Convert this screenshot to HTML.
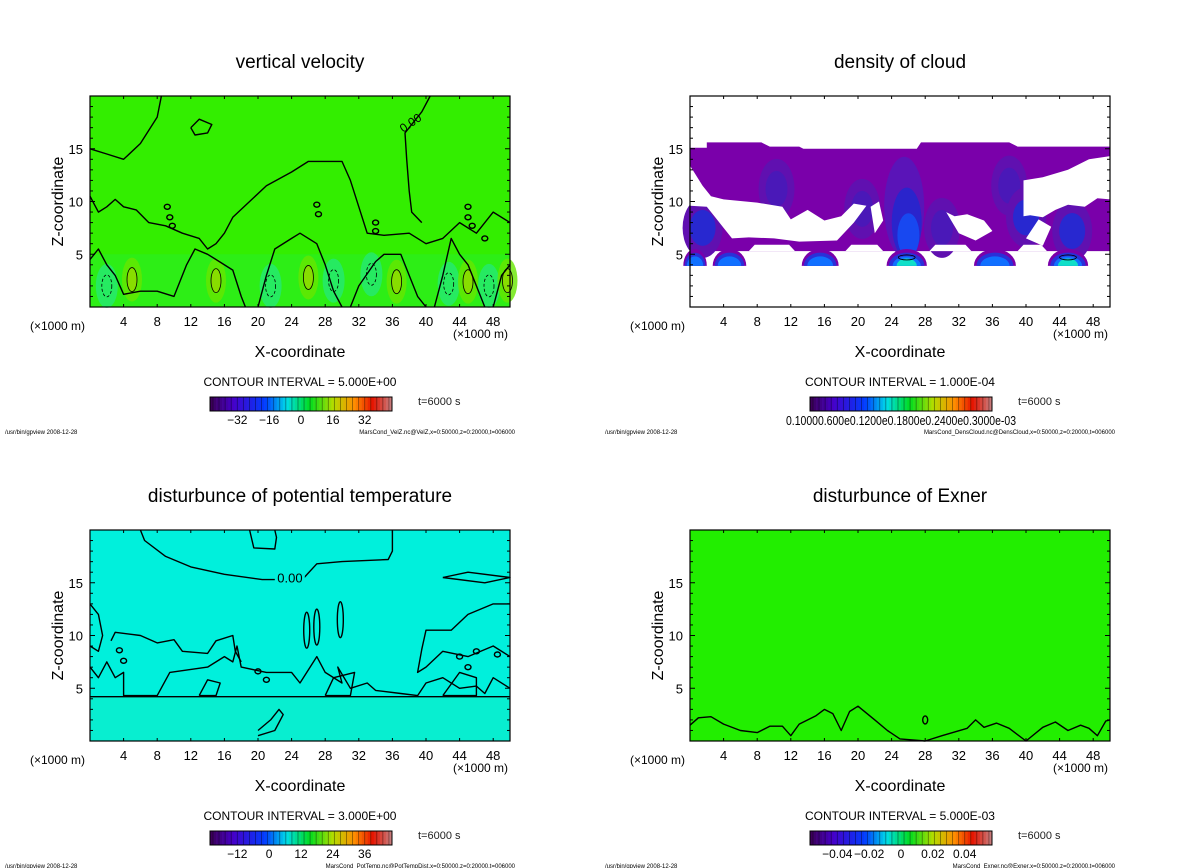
<!DOCTYPE html>
<html><head><meta charset="utf-8">
<style>
html,body{margin:0;padding:0;background:#fff;}
svg{display:block;font-family:"Liberation Sans",sans-serif;}
</style></head>
<body>
<svg id="root" width="1200" height="868" viewBox="0 0 1200 868"></svg>
<script>
// ---- data ----
const xTickValues = [4,8,12,16,20,24,28,32,36,40,44,48];
const zTickValues = [5,10,15];
const panelTitles = ["vertical velocity","density of cloud","disturbunce of potential temperature","disturbunce of Exner"];
const contourIntervals = ["5.000E+00","1.000E-04","3.000E+00","5.000E-03"];
const cbarLabelsW = ["-32","-16","0","16","32"];
const cbarLabelsT = ["-12","0","12","24","36"];
const cbarLabelsE = ["-0.04","-0.02","0","0.02","0.04"];
const footers = ["MarsCond_VelZ.nc@VelZ,x=0:50000,z=0:20000,t=006000","MarsCond_DensCloud.nc@DensCloud,x=0:50000,z=0:20000,t=006000","MarsCond_PotTemp.nc@PotTempDist,x=0:50000,z=0:20000,t=006000","MarsCond_Exner.nc@Exner,x=0:50000,z=0:20000,t=006000"];
// vertical velocity cores (x km, z km)
const upX = [5,15,26,36.5,45,49.7];
const upZ = [2.6,2.5,2.8,2.4,2.4,2.5];
const downX = [2,21.5,29,33.5,42.7,47.5];
const downZ = [2,2,2.5,3.1,2.2,2];
// cloud base blobs (centre x km, half-width km, intensity level)
const cloudX = [0.6,4.7,15.5,25.8,36.3,45];
const cloudHW = [1.4,2.0,2.2,2.4,2.5,2.4];
const cloudI = [2,2,2,4,2,4];
// cloud columns inside the layer (x, z, intensity)
const colX = [10.3,20.5,38,40,45.5,1.5,30];
const colZ = [11.2,9.3,11.5,8.5,7.2,7.5,7.5];
const colI = [1,1,1,2,2,2,1];

const NS="http://www.w3.org/2000/svg";
const root=document.getElementById('root');
function el(tag,attrs,parent,text){const e=document.createElementNS(NS,tag);for(const k in attrs)e.setAttribute(k,attrs[k]);if(text!==undefined)e.textContent=text;(parent||root).appendChild(e);return e;}

const panels=[{x0:90,y0:96},{x0:690,y0:96},{x0:90,y0:530},{x0:690,y0:530}];
const W=420,H=211;
function sx(p,x){return p.x0+x/50*W;}
function sz(p,z){return p.y0+H-z/20*H;}
function path(p,pts,close){return pts.map((q,i)=>(i?'L':'M')+sx(p,q[0]).toFixed(1)+','+sz(p,q[1]).toFixed(1)).join('')+(close?'Z':'');}

function rainbow(t){const stops=[[0,[60,0,90]],[0.12,[70,0,200]],[0.3,[0,60,255]],[0.42,[0,220,230]],[0.55,[0,220,30]],[0.68,[180,220,0]],[0.8,[255,140,0]],[0.9,[230,20,0]],[1,[200,120,120]]];for(let i=1;i<stops.length;i++){if(t<=stops[i][0]){const a=stops[i-1],b=stops[i];const f=(t-a[0])/(b[0]-a[0]);return 'rgb('+a[1].map((v,k)=>Math.round(v+(b[1][k]-v)*f)).join(',')+')';}}return 'rgb(200,120,120)';}

function drawFrame(i,g){
  const p=panels[i];
  const cx=p.x0+W/2;
  const t=el('text',{x:cx,y:p.y0-28,'text-anchor':'middle','font-size':19,fill:'#000'},g,panelTitles[i]);
  
  el('rect',{x:p.x0,y:p.y0,width:W,height:H,fill:'none',stroke:'#000','stroke-width':1.2},g);
  const tk=el('g',{},g);
  for(let x=4;x<50;x+=4){el('line',{x1:sx(p,x),x2:sx(p,x),y1:p.y0+H,y2:p.y0+H-3,stroke:'#000'},tk);el('line',{x1:sx(p,x),x2:sx(p,x),y1:p.y0,y2:p.y0+3,stroke:'#000'},tk);}
  for(let z=1;z<20;z++){const L=z%5?3:5;el('line',{x1:p.x0,x2:p.x0+L,y1:sz(p,z),y2:sz(p,z),stroke:'#000'},tk);el('line',{x1:p.x0+W,x2:p.x0+W-L,y1:sz(p,z),y2:sz(p,z),stroke:'#000'},tk);}
  xTickValues.forEach(v=>{el('text',{x:sx(p,v),y:p.y0+H+19,'text-anchor':'middle','font-size':13},tk,String(v));});
  zTickValues.forEach(v=>{el('text',{x:p.x0-7,y:sz(p,v)+5,'text-anchor':'end','font-size':13},tk,String(v));});
  el('text',{x:p.x0-60,y:p.y0+H+23,'font-size':12},g,'(×1000 m)');
  el('text',{x:p.x0+363,y:p.y0+H+31,'font-size':12},g,'(×1000 m)');
  const xl=el('text',{x:cx,y:p.y0+H+50,'text-anchor':'middle','font-size':16},g,'X-coordinate');
  
  const yl=el('text',{x:0,y:0,'text-anchor':'middle','font-size':16,transform:'translate('+(p.x0-27)+','+(p.y0+H/2)+') rotate(-90)'},g,'Z-coordinate');
  
  const ci=el('text',{x:cx,y:p.y0+290,'text-anchor':'middle','font-size':12},g,'CONTOUR INTERVAL = '+contourIntervals[i]);
  
  const cb=el('g',{},g);
  const bx=p.x0+120,by=p.y0+301,bw=182,bh=14,n=60;
  for(let k=0;k<n;k++){el('rect',{x:bx+k*bw/n,y:by,width:bw/n+0.3,height:bh,fill:rainbow(k/(n-1))},cb);if(k%2)el('line',{x1:bx+k*bw/n,x2:bx+k*bw/n,y1:by,y2:by+bh,stroke:'rgba(0,0,0,0.45)','stroke-width':0.8},cb);}
  el('rect',{x:bx,y:by,width:bw,height:bh,fill:'none',stroke:'#000'},cb);
  el('text',{x:p.x0+328,y:by+8,'font-size':11,fill:'#222'},g,'t=6000 s');
  el('text',{x:p.x0-85,y:p.y0+338,'font-size':6},g,'/usr/bin/gpview   2008-12-28');
  el('text',{x:p.x0+W+5,y:p.y0+338,'text-anchor':'end','font-size':6},g,footers[i]);
  return {bx,by,bw,bh};
}
function cbLabels(g,b,labs){labs.forEach((s,k)=>el('text',{x:b.bx+b.bw*(0.15+k*0.7/(labs.length-1)),y:b.by+b.bh+13,'text-anchor':'middle','font-size':12},g,s.replace('-','−')));}

// ---- panel 1: vertical velocity ----
(function(){
  const p=panels[0];const g=el('g',{});
  el('rect',{x:p.x0,y:p.y0,width:W,height:H,fill:'#33ee00'},g);
  const f=el('g',{},g);
  el('rect',{x:p.x0,y:sz(p,5),width:W,height:sz(p,0)-sz(p,5),fill:'#22ee40',opacity:0.35},f);
  downX.forEach((x,k)=>{const e=el('ellipse',{cx:sx(p,x),cy:sz(p,downZ[k]),rx:11,ry:22,fill:'#20e8a0',opacity:0.55},f);
    el('ellipse',{cx:sx(p,x),cy:sz(p,downZ[k]),rx:5,ry:11,fill:'none',stroke:'#000','stroke-dasharray':'3,2','stroke-width':0.8},f);});
  upX.forEach((x,k)=>{const e=el('ellipse',{cx:sx(p,x),cy:sz(p,upZ[k]),rx:10,ry:22,fill:'#66e600',opacity:0.8},f);
    el('ellipse',{cx:sx(p,x),cy:sz(p,upZ[k]),rx:5,ry:12,fill:'#88dd00',stroke:'#000','stroke-width':0.8},f);});
  const c=el('g',{fill:'none',stroke:'#000','stroke-width':1.4,'stroke-linejoin':'round'},g);
  const lines=[
    [[0,15],[2,14.5],[4,14],[6,15.5],[8,18],[8.5,20]],
    [[12,17],[13,17.8],[14.5,17.3],[14,16.5],[12.5,16.3],[12,17]],
    [[40.5,20],[39.5,18.5],[37.5,16.5],[37.7,14],[38,11],[38.3,9],[39.5,8]],
    [[0,10.5],[1,9],[2,9.5],[3,10.2],[4,9.5],[5.5,9.2],[7,8],[9,7.7],[11,7],[13,6.5],[14,5.5],[15,6],[16,7],[17,8.5],[19,10],[21,11.5],[24,12.8],[26,13.8],[30,13.8],[31,12],[32,9.5],[33,7],[35,6.8],[38,7],[40,6],[42,6.5],[44,8],[46,7],[48,9],[50,8]],
    [[0,4.5],[1,5.5],[2,4],[3,3],[4,1.2],[6,1.5],[8,1.5],[10,1],[11.5,4],[12.5,5.5],[14,5],[15,4.5],[17,3.5],[18,1],[18.5,0]],
    [[20,0],[21,3],[22,5.5],[24,6.5],[25,7],[27,6],[28,4],[29,1.5],[30,0]],
    [[31,0],[32,2],[34,4.3],[35,5],[37,5],[38,3],[39,1],[40,0]],
    [[41,0],[42,3],[43,6.5],[44,5],[45,4],[46,2],[47,0]],
    [[48,0],[49,3],[50,4]]
  ];
  lines.forEach(l=>el('path',{d:path(p,l)},c));
  [[9.2,9.5],[9.5,8.5],[9.8,7.7],[27,9.7],[27.2,8.8],[34,8],[34,7.2],[45,9.5],[45,8.5],[45.5,7.7],[47,6.5]].forEach(q=>el('ellipse',{cx:sx(p,q[0]),cy:sz(p,q[1]),rx:3,ry:2.5},c));
  el('text',{x:sx(p,37.3),y:sz(p,16.5),'font-size':12,transform:'rotate(-35 '+sx(p,37.3)+' '+sz(p,16.5)+')'},g,'0.00');
  const b=drawFrame(0,g);cbLabels(g,b,cbarLabelsW);
})();

// ---- panel 2: density of cloud ----
(function(){
  const p=panels[1];const g=el('g',{});
  el('rect',{x:p.x0,y:p.y0,width:W,height:H,fill:'#fff'},g);
  const f=el('g',{},g);
  el('path',{d:path(p,[[0,15.1],[2,15.1],[2,15.6],[8.5,15.6],[9.5,15.2],[13,15.2],[13.5,15.0],[27,15.0],[27.5,15.6],[38,15.6],[39,15.2],[50,15.2],[50,5.3],[0,5.3]],true),fill:'#7a00aa'},f);
  colX.forEach((x,k)=>{const n=colI[k];
    const e=el('ellipse',{cx:sx(p,x),cy:sz(p,colZ[k]),rx:16+n*2,ry:30,fill:'#6010b0'},f);
    el('ellipse',{cx:sx(p,x),cy:sz(p,colZ[k]),rx:9+n*2,ry:18,fill:n>1?'#2828d0':'#4a18b8'},f);});
  el('ellipse',{cx:sx(p,25.5),cy:sz(p,9.5),rx:20,ry:50,fill:'#5a14b8'},f);
  el('ellipse',{cx:sx(p,25.8),cy:sz(p,8),rx:15,ry:35,fill:'#2a24cc'},f);
  el('ellipse',{cx:sx(p,26),cy:sz(p,6.8),rx:11,ry:22,fill:'#1848f0'},f);
  // white gaps
  el('path',{d:path(p,[[0,13.4],[1.5,11.5],[2.5,10.5],[4,10.2],[8,9.9],[11,9.5],[12,8.3],[14,9.2],[16,8.2],[18,8.6],[19.5,9.8],[21,9.6],[19.5,8],[17.5,6.3],[13,6.2],[10,6.5],[7,6.6],[5,6.5],[4,7.5],[3,8.5],[2,9.5],[0,9.6]],true),fill:'#fff'},f);
  el('path',{d:path(p,[[39.7,12],[42,12.3],[45,13],[47.5,14],[50,14.3],[50,10.2],[48.5,10.3],[47,9.5],[45,9.7],[43.5,9.2],[42,8.5],[40.5,8.7],[39.7,8.6]],true),fill:'#fff'},f);
  el('path',{d:path(p,[[21.5,9.5],[22.5,10],[23,8.2],[22,7]],true),fill:'#fff'},f);
  el('path',{d:path(p,[[30.5,9],[31.5,8.6],[33,8.8],[35,8.2],[36,7.2],[34,6.3],[32,7]],true),fill:'#fff'},f);
  el('path',{d:path(p,[[41.5,8.3],[43,7.6],[42,5.8],[40,6.5]],true),fill:'#fff'},f);
  // white gaps between base cells
  [[7,12.5],[18.5,23],[28.5,33.5],[39,42.5]].forEach(q=>el('path',{d:path(p,[[q[0],5.3],[q[0]+0.7,5.9],[q[1]-0.7,5.9],[q[1],5.3]],true),fill:'#fff'},f));
  cloudX.forEach((x,k)=>{const n=cloudI[k],hw=cloudHW[k];
    const layers=[[1.0,'#7a00aa',1.6],[0.88,'#2a30d8',1.25],[0.7,'#1070ff',0.9]];
    if(n>=3)layers.push([0.5,'#10e0c8',0.7]);
    layers.forEach(L=>{const a=hw*L[0],h=L[2];const x1=sx(p,x-a),x2=sx(p,x+a),yb=sz(p,3.9),ry=sz(p,3.9)-sz(p,3.9+h);
      const e=el('path',{d:'M'+x1+','+yb+' A'+(x2-x1)/2+','+ry+' 0 0 1 '+x2+','+yb+'Z',fill:L[1]},f);
      });
    if(n>=3)el('ellipse',{cx:sx(p,x),cy:sz(p,4.7),rx:hw*3.5,ry:2.5,fill:'none',stroke:'#000','stroke-width':0.8},f);});
  const b=drawFrame(1,g);
  el('text',{x:b.bx+b.bw/2,y:b.by+b.bh+14,'text-anchor':'middle','font-size':13,textLength:230,lengthAdjust:'spacingAndGlyphs'},g,'0.10000.600e0.1200e0.1800e0.2400e0.3000e-03');
})();

// ---- panel 3: potential temperature ----
(function(){
  const p=panels[2];const g=el('g',{});
  el('rect',{x:p.x0,y:p.y0,width:W,height:H,fill:'#00f0dc'},g);
  el('rect',{x:p.x0,y:sz(p,4.2),width:W,height:sz(p,0)-sz(p,4.2),fill:'#08eed0'},g);
  const c=el('g',{fill:'none',stroke:'#000','stroke-width':1.4,'stroke-linejoin':'round'},g);
  el('path',{d:path(p,[[6,20],[6.5,19],[9,17.5],[12,16.5],[16,15.8],[20.5,15.3],[24,15.3],[25.5,15.5],[27,16.8],[30,17],[35.5,17.2],[36,18],[36,20]])},c);
  el('path',{d:path(p,[[19,20],[19.5,18.3],[22,18.2],[22.2,19.3],[22,20]])},c);
  el('path',{d:path(p,[[42,15.5],[45,16],[50,15.5],[47,15],[42,15.5]])},c);
  el('path',{d:path(p,[[0,13],[1,12],[1.5,10],[1,8.5],[0,9]])},c);
  el('path',{d:path(p,[[50,13],[48,13],[45,12],[43,10.5],[40,10.5],[39.5,8.7],[39,6.5],[40,7],[42,8.5],[45,8],[48,9],[50,8]])},c);
  el('path',{d:path(p,[[0,7],[1,6],[2,7.5],[3,6],[4,6.5],[4,4.3],[8,4.3],[9.5,6.5],[14,7],[16,8],[17,7.5],[17.5,9],[18,7],[21,6.5],[24,6.5],[25,5.5],[27,8],[28,6.5],[30,5.5],[29.5,7],[31,5],[33,5.5],[34,4.8],[37,4.5],[39,4.3],[40,5.5],[42,6],[44,5],[46,5.2],[47,4.5],[48,6],[50,5]])},c);
  el('path',{d:path(p,[[2.5,9.5],[3,10.3],[6,10],[8,9.3],[10,9.6],[11,8.5],[14,8.3],[15,9.5],[17,10],[17.3,8.5],[18,7.5]])},c);
  el('path',{d:path(p,[[13,4.3],[15,4.3],[15.5,5.5],[14,5.8],[13,4.3]])},c);
  el('path',{d:path(p,[[42,4.3],[46,4.3],[46,6],[44,6.5],[42,4.3]])},c);
  el('path',{d:path(p,[[28,4.3],[31,4.3],[31.5,6.5],[29,6],[28,4.3]])},c);
  el('path',{d:path(p,[[20,0.5],[22,1],[23,2.5],[22.5,3],[21.5,2],[20,1]])},c);
  [[25.8,10.5],[27,10.8],[29.8,11.5]].forEach(q=>el('ellipse',{cx:sx(p,q[0]),cy:sz(p,q[1]),rx:3,ry:18},c));
  [[3.5,8.6],[4,7.6],[20,6.6],[21,5.8],[44,8],[45,7],[46,8.5],[48.5,8.2]].forEach(q=>el('ellipse',{cx:sx(p,q[0]),cy:sz(p,q[1]),rx:3,ry:2.5},c));
  el('line',{x1:p.x0,x2:p.x0+W,y1:sz(p,4.2),y2:sz(p,4.2),stroke:'#000','stroke-width':1.4},c);
  el('rect',{x:sx(p,22),y:sz(p,15.5)-8,width:30,height:14,fill:'#00f0dc'},g);
  el('text',{x:sx(p,23.8),y:sz(p,15.5)+5,'font-size':13,'text-anchor':'middle'},g,'0.00');
  const b=drawFrame(2,g);cbLabels(g,b,cbarLabelsT);
})();

// ---- panel 4: Exner ----
(function(){
  const p=panels[3];const g=el('g',{});
  el('rect',{x:p.x0,y:p.y0,width:W,height:H,fill:'#22ee00'},g);
  const c=el('g',{fill:'none',stroke:'#000','stroke-width':1.4,'stroke-linejoin':'round'},g);
  el('path',{d:path(p,[[0,1.5],[1,2.2],[2.5,2.3],[4,1.6],[6,1],[8,0.8],[9.5,1.4],[11,1.4],[12,0.5],[13,1.6],[15,2.4],[16,3],[17,2.6],[18,1],[19,2.8],[20,3.3],[22,2],[23.5,1],[25,0.2],[28,0],[30,0.5],[33,1.2],[34,2],[35,1.3],[36.5,1.7],[38,1.2],[40,0],[42,1.3],[43.5,1.8],[45,1],[46.5,1.5],[47.5,1.2],[48.5,0.5],[49.5,1.9],[50,2]])},c);
  el('ellipse',{cx:sx(p,28),cy:sz(p,2),rx:2.5,ry:4},c);
  const b=drawFrame(3,g);cbLabels(g,b,cbarLabelsE);
})();
</script>
</body></html>
